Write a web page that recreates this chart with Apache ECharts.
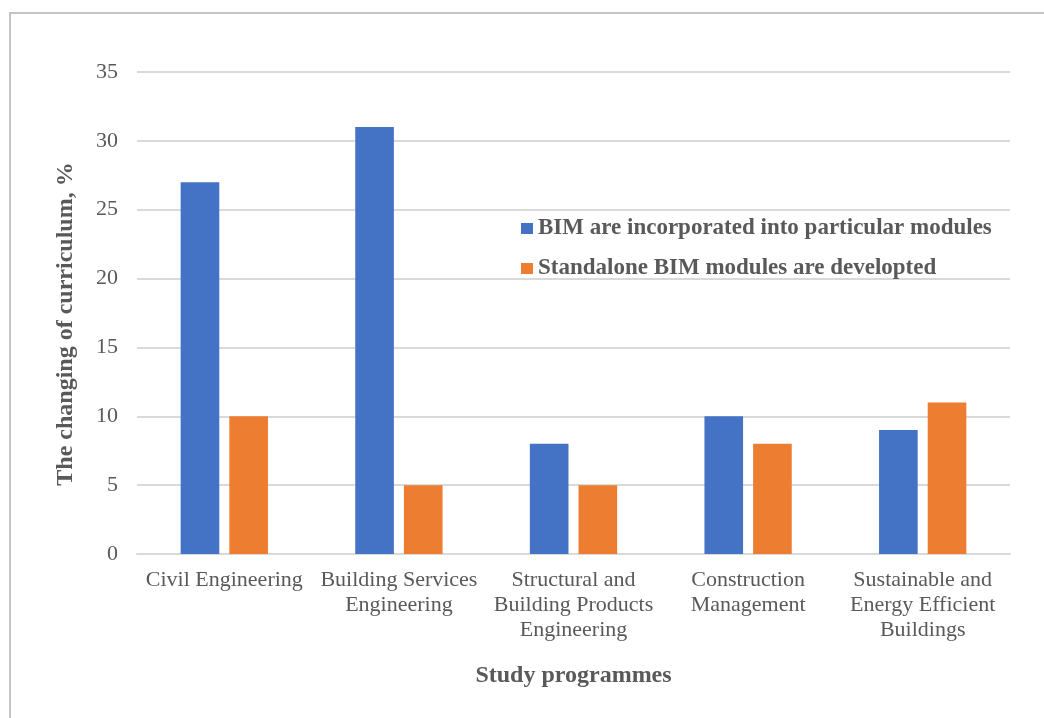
<!DOCTYPE html>
<html>
<head>
<meta charset="utf-8">
<script src="https://cdn.jsdelivr.net/npm/echarts@6/dist/echarts.min.js"></script>
<style>
  html, body { margin: 0; padding: 0; background: #fff; }
  #frame { position: absolute; left: 9px; top: 12px; width: 1035px; height: 706px;
           border-left: 2px solid #c4c4c4; border-top: 2px solid #c4c4c4; box-sizing: border-box; }
  #container { width: 1044px; height: 718px; }
</style>
</head>
<body>
<div id="frame"></div>
<div id="container"></div>
<script>
var categories = [
    'Civil Engineering',
    'Building Services\nEngineering',
    'Structural and\nBuilding Products\nEngineering',
    'Construction\nManagement',
    'Sustainable and\nEnergy Efficient\nBuildings'
];
var incorporated = [27, 31, 8, 10, 9];
var standalone = [10, 5, 5, 8, 11];
var yTicks = [0, 35, 5];  // min, max, step

(function() {
    var dom = document.getElementById("container");
    var myChart = echarts.init(dom);
    var serif = '"Liberation Serif", "DejaVu Serif", serif';

    myChart.setOption({
        animation: false,
        textStyle: { fontFamily: serif },
        grid: {
            left: 137,
            right: 34,
            top: 72,
            bottom: 164
        },
        legend: {
            orient: 'vertical',
            left: 516,
            top: 212,
            itemWidth: 12,
            itemHeight: 11,
            itemGap: 17,
            icon: 'rect',
            textStyle: {
                fontFamily: serif,
                fontWeight: 'bold',
                fontSize: 23,
                color: '#595959'
            },
            data: ['BIM are incorporated into particular modules', 'Standalone BIM modules are developted']
        },
        xAxis: {
            type: 'category',
            data: categories,
            name: 'Study programmes',
            nameLocation: 'middle',
            nameGap: 110,
            nameTextStyle: {
                fontFamily: serif,
                fontWeight: 'bold',
                fontSize: 24,
                color: '#595959'
            },
            axisLine: { lineStyle: { color: '#d9d9d9', width: 2 } },
            axisTick: { show: false },
            axisLabel: {
                interval: 0,
                margin: 14,
                fontSize: 22,
                lineHeight: 25,
                color: '#595959',
                fontFamily: serif
            }
        },
        yAxis: {
            type: 'value',
            min: yTicks[0],
            max: yTicks[1],
            interval: yTicks[2],
            name: 'The changing of curriculum, %',
            nameLocation: 'middle',
            nameGap: 59,
            nameTextStyle: {
                fontFamily: serif,
                fontWeight: 'bold',
                fontSize: 24,
                color: '#595959',
                padding: [0, 22, 0, 0]
            },
            axisLine: { show: false },
            axisTick: { show: false },
            axisLabel: {
                margin: 19,
                fontSize: 22,
                color: '#595959',
                fontFamily: serif
            },
            splitLine: { lineStyle: { color: '#d9d9d9', width: 2 } }
        },
        series: [{
            name: 'BIM are incorporated into particular modules',
            type: 'bar',
            data: incorporated,
            barGap: '26%',
            barCategoryGap: '50%',
            itemStyle: { color: '#4472C4' }
        }, {
            name: 'Standalone BIM modules are developted',
            type: 'bar',
            data: standalone,
            itemStyle: { color: '#ED7D31' }
        }]
    });
}).call(this);
</script>
</body>
</html>
